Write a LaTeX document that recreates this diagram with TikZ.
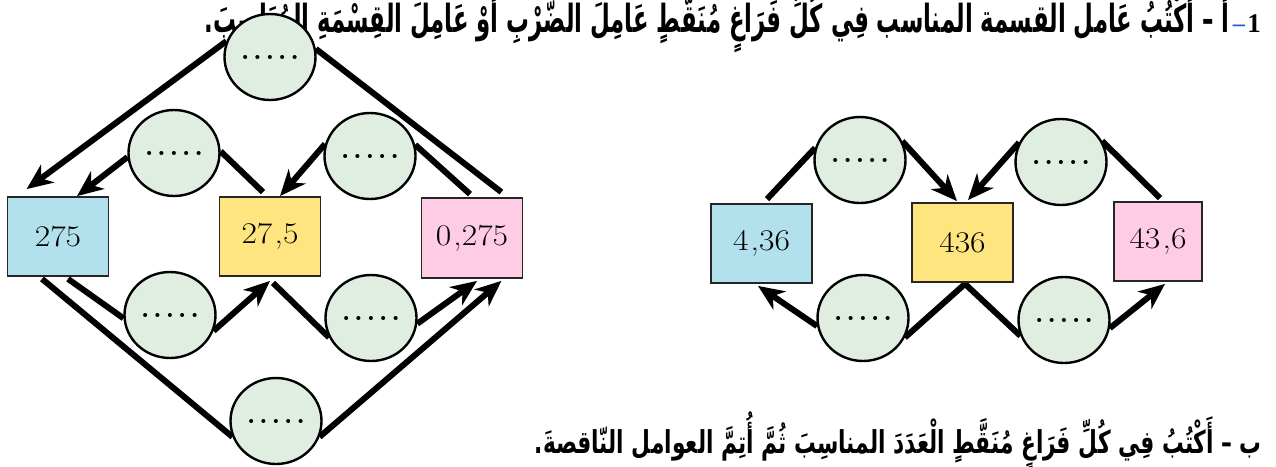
\documentclass[tikz,border=0pt]{standalone}
\usepackage{fontspec}
\usetikzlibrary{shapes.geometric,arrows.meta}
\TeXXeTstate=1
\newfontfamily\arabicfont[Script=Arabic]{DejaVu Sans}
\newfontfamily\numberfont{Liberation Serif}
\definecolor{cblue}{RGB}{178,224,236}
\definecolor{cyel}{RGB}{255,229,128}
\definecolor{cpink}{RGB}{255,204,229}
\definecolor{cfill}{RGB}{223,238,224}
\definecolor{dashblue}{RGB}{30,90,200}
\newcommand\numsz{\fontsize{30}{34}\selectfont}
\newcommand\numtxt[1]{\scalebox{1.12}[1]{#1}}
\newcommand\dotrow{{\bfseries\fontsize{28}{30}\selectfont .\hspace{3.6pt}.\hspace{3.6pt}.\hspace{3.6pt}.\hspace{3.6pt}.}}
\pgfdeclarelayer{bg}
\pgfsetlayers{bg,main}
\begin{document}
\begin{tikzpicture}[x=1pt,y=-1pt,
  numbox/.style={draw=black!85, line width=1.8pt, minimum width=101pt, minimum height=79pt, inner sep=0pt, font=\numsz},
  circ/.style={ellipse, draw=black, line width=2.4pt, fill=cfill, minimum width=91pt, minimum height=86pt, inner sep=0pt},
  conn/.style={line width=6pt, line join=miter},
  arr/.style={conn, -{Stealth[length=26pt,width=22pt,inset=8pt]}},
  ttl/.style={inner sep=0pt, anchor=base east}]
\useasboundingbox (0,0) rectangle (1276,466);

% title texts
\node[ttl] (n1) at (1261,32) {\numberfont\bfseries\fontsize{27}{30}\selectfont 1};
\node[ttl, text=dashblue] (d1) at (1245,31) {\numberfont\bfseries\fontsize{24}{28}\selectfont –};
\node[ttl] (t1) at (1230,32) {\scalebox{1}[1.7]{\resizebox{1025pt}{!}{\fontsize{20}{24}\selectfont\arabicfont\bfseries\beginR أ – أَكْتُبُ عَامل القسمة المناسب فِي كُلِّ فَرَاغٍ مُنَقَّطٍ عَامِلَ الضَّرْبِ أَوْ عَامِلَ الْقِسْمَةِ الْمُنَاسِبَ.\endR}}};
\node[ttl] (t2) at (1262,453) {\scalebox{1}[1.45]{\resizebox{727pt}{!}{\fontsize{20}{24}\selectfont\arabicfont\bfseries\beginR ب – أَكْتُبُ فِي كُلِّ فَرَاغٍ مُنَقَّطٍ الْعَدَدَ المناسِبَ ثُمَّ أُتِمَّ العوامل النّاقصةَ.\endR}}};

% left diagram
\node[numbox, fill=cblue] (a1) at (58,236.5) {\numtxt{275}};
\node[numbox, fill=cyel] (a2) at (270,236.5) {\numtxt{27\hspace{2pt},5}};
\node[numbox, fill=cpink, minimum height=80pt] (a3) at (472,238) {\numtxt{0\hspace{2pt},275}};
\node[circ] (ct) at (270,57) {\dotrow};
\node[circ] (cul) at (174,153) {\dotrow};
\node[circ] (cur) at (370,156) {\dotrow};
\node[circ] (cll) at (170,315) {\dotrow};
\node[circ] (clr) at (371,318) {\dotrow};
\node[circ] (cb) at (276,421) {\dotrow};

% right diagram
\node[numbox, fill=cblue] (b1) at (761.5,243.5) {\numtxt{4\hspace{2pt},36}};
\node[numbox, fill=cyel] (b2) at (962.5,242.5) {\numtxt{436}};
\node[numbox, fill=cpink, minimum width=88pt] (b3) at (1158,241.5) {\numtxt{43\hspace{2pt},6}};
\node[circ] (rul) at (860,160) {\dotrow};
\node[circ] (rur) at (1061,162) {\dotrow};
\node[circ] (rll) at (863,318) {\dotrow};
\node[circ] (rlr) at (1064,320) {\dotrow};

\begin{pgfonlayer}{bg}
% left connectors
\draw[arr] (ct.160) -- ([shift={(20,-7)}]a1.north west);
\draw[conn] (ct.10) -- ([shift={(-22,-5)}]a3.north east);
\draw[arr] (cul.185) -- ([shift={(19,0)}]a1.north);
\draw[conn] (cul.2) -- ([shift={(-7,-4)}]a2.north);
\draw[arr] (cur.165) -- ([shift={(10,0)}]a2.north);
\draw[conn] (cur.14) -- ([shift={(-2,-3)}]a3.north);
\draw[conn] ([shift={(10,2)}]a1.south) -- (cll.184);
\draw[arr] (cll.340) -- ([shift={(0,4)}]a2.south);
\draw[conn] ([shift={(3,6)}]a2.south) -- (clr.205);
\draw[arr] (clr.353) -- ([shift={(5,2)}]a3.south);
\draw[conn] ([shift={(-16,2)}]a1.south) -- (cb.200);
\draw[arr] (cb.340) -- ([shift={(-22,2)}]a3.south east);
% right connectors
\draw[conn] ([shift={(5.5,-4)}]b1.north) -- (rul.165);
\draw[arr] (rul.24) -- ([shift={(-5.5,-1)}]b2.north);
\draw[arr] (rur.155) -- ([shift={(5.5,-2)}]b2.north);
\draw[conn] ([shift={(2,-3)}]b3.north) -- (rur.27);
\draw[arr] (rll.190) -- ([shift={(-3.5,2)}]b1.south);
\draw[conn] (rll.335) -- ([shift={(2.5,1)}]b2.south) -- (rlr.200);
\draw[arr] (rlr.350) -- ([shift={(7,2)}]b3.south);
\end{pgfonlayer}
\end{tikzpicture}
\end{document}
